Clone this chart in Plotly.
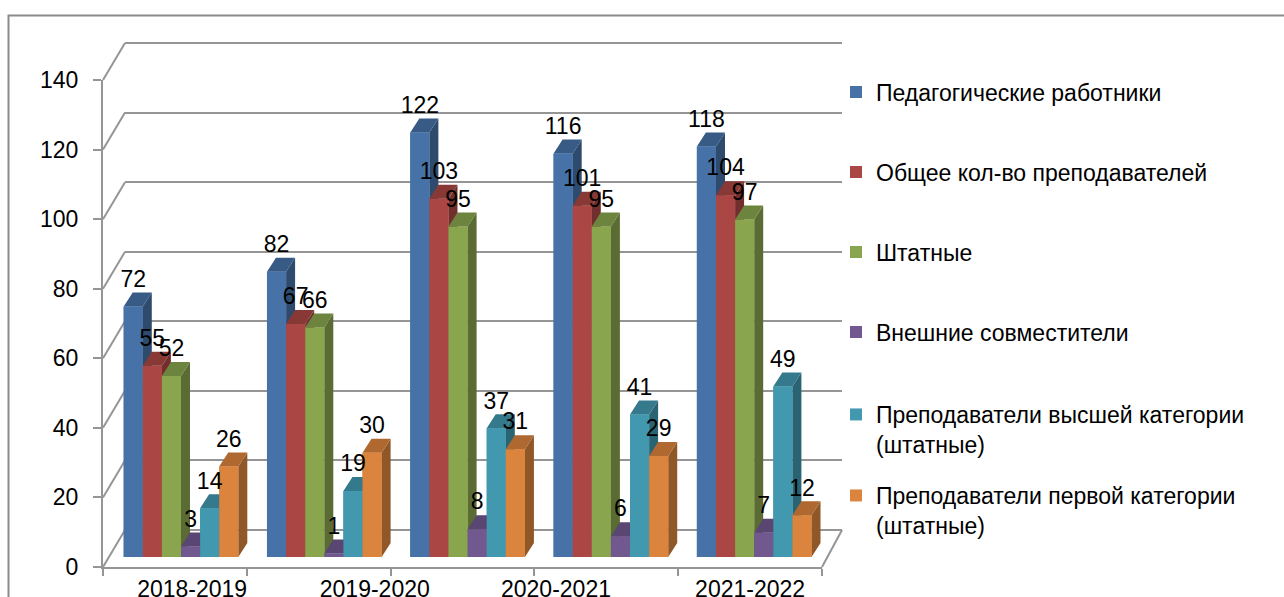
import plotly.graph_objects as go

# ---------------- data ----------------
categories = ["2018-2019", "2019-2020", "2020-2021", "2021-2022"]
series_names = [
    "Педагогические работники",
    "Общее кол-во преподавателей",
    "Штатные",
    "Внешние совместители",
    "Преподаватели высшей категории<br>(штатные)",
    "Преподаватели первой категории<br>(штатные)",
]
ped_workers = [72, 82, 122, 116, 118]
teachers_total = [55, 67, 103, 101, 104]
staff = [52, 66, 95, 95, 97]
external = [3, 1, 8, 6, 7]
higher_cat = [14, 19, 37, 41, 49]
first_cat = [26, 30, 31, 29, 12]
y_ticks = [0, 20, 40, 60, 80, 100, 120, 140]

series_values = [ped_workers, teachers_total, staff, external, higher_cat, first_cat]
front_colors = ["#4672A8", "#AA4643", "#89A54E", "#71588F", "#4198AF", "#DB843D"]

# ---------------- geometry (pixels of the 1284x597 page) ----------------
W, H = 1284, 597
K = 487.0 / 140.0          # pixels per unit on the value axis
Y_MAX = 140


def fx(p):
    return p / W


def fy(p):
    return 1 - p / H


def ydomain(base_px, lo, hi):
    return [fy(base_px - K * lo), fy(base_px - K * hi)]


def shade(hex_color, f):
    h = hex_color.lstrip("#")
    r, g, b = (int(h[i:i + 2], 16) for i in (0, 2, 4))
    return "#%02x%02x%02x" % (int(r * f), int(g * f), int(b * f))


GRID = "#959595"
FONT = "Liberation Sans, Arial, sans-serif"

n_groups = len(ped_workers)
n_series = len(series_values)
group_w = 0.8
bw = group_w / n_series
pitch_px = 143.3
dx = 9.0 / pitch_px          # depth offset in category units
dy = 14.0 / K                # depth offset in value units

fig = go.Figure()

# empty traces so that the wall-grid and front-axis subplots are drawn
fig.add_trace(go.Scatter(x=[None], y=[None], xaxis="x", yaxis="y",
                         showlegend=False, hoverinfo="skip"))
fig.add_trace(go.Scatter(x=[None], y=[None], xaxis="x2", yaxis="y2",
                         showlegend=False, hoverinfo="skip"))

# base bars (front faces) on the bar subplot; they also carry the legend
for j, (name, vals, col) in enumerate(zip(series_names, series_values, front_colors)):
    fig.add_trace(go.Bar(
        x=list(range(n_groups)), y=vals, name=name,
        width=bw, offset=-group_w / 2 + j * bw,
        marker=dict(color=col, line=dict(width=0)),
        xaxis="x3", yaxis="y3", hoverinfo="skip",
        legend="legend" if j == 0 else f"legend{j + 1}",
    ))

# pseudo-3D faces drawn in painter's order (left to right in each cluster)
for j, (vals, col) in enumerate(zip(series_values, front_colors)):
    faces = {"side": ([], []), "top": ([], []), "front": ([], [])}
    for i, v in enumerate(vals):
        x0 = i - group_w / 2 + j * bw
        x1 = x0 + bw
        sx, sy = faces["side"]
        sx += [x1, x1, x1 + dx, x1 + dx, x1, None]
        sy += [0, v, v + dy, dy, 0, None]
        tx, ty = faces["top"]
        tx += [x0, x1, x1 + dx, x0 + dx, x0, None]
        ty += [v, v, v + dy, v + dy, v, None]
        ffx, ffy = faces["front"]
        ffx += [x0, x1, x1, x0, x0, None]
        ffy += [0, 0, v, v, 0, None]
    for face, f in (("side", 0.66), ("top", 0.8), ("front", 1.0)):
        xs, ys = faces[face]
        fig.add_trace(go.Scatter(
            x=xs, y=ys, mode="lines", fill="toself",
            fillcolor=shade(col, f), line=dict(width=0, color=shade(col, f)),
            xaxis="x3", yaxis="y3", hoverinfo="skip", showlegend=False,
        ))

# value labels
for j, vals in enumerate(series_values):
    xs = [i - group_w / 2 + j * bw + bw / 2 for i in range(n_groups)]
    fig.add_trace(go.Scatter(
        x=xs, y=[v + dy for v in vals], mode="text",
        text=[str(v) for v in vals], textposition="top center",
        textfont=dict(family=FONT, size=23, color="#000000"),
        xaxis="x3", yaxis="y3", hoverinfo="skip", showlegend=False,
        cliponaxis=False,
    ))

# ---------------- axes ----------------
back_base, front_base, bar_base = 530.0, 567.0, 557.0
back_left, back_right = 125.0, 842.0
front_left, front_right = 103.0, 822.0

# back wall grid (subplot x / y)
fig.update_layout(
    xaxis=dict(domain=[fx(back_left), fx(back_right)], range=[0, 1], visible=False,
               fixedrange=True, automargin=False),
    yaxis=dict(domain=ydomain(back_base, -0.3, Y_MAX + 0.3), range=[-0.3, Y_MAX + 0.3],
               tickvals=y_ticks, showgrid=True, gridcolor=GRID, gridwidth=2,
               showticklabels=False, zeroline=False, showline=False, ticks="",
               anchor="x", fixedrange=True, automargin=False),
)

# front axes (subplot x2 / y2)
label_pos = [0.12, 1.39, 2.65, 4.0]
fig.update_layout(
    xaxis2=dict(domain=[fx(front_left), fx(front_right)], range=[-0.5, n_groups - 0.5],
                anchor="y2", showline=True, linecolor=GRID, linewidth=2,
                showgrid=False, zeroline=False, automargin=False,
                tickmode="array", tickvals=label_pos, ticktext=categories,
                ticks="", ticklabelstandoff=0,
                tickfont=dict(family=FONT, size=23, color="#000000"),
                minor=dict(tickmode="array",
                           tickvals=[k - 0.5 for k in range(n_groups + 1)],
                           ticks="outside", ticklen=7, tickwidth=2, tickcolor=GRID),
                fixedrange=True),
    yaxis2=dict(domain=ydomain(front_base, 0, Y_MAX), range=[0, Y_MAX], anchor="x2",
                tickmode="array", tickvals=y_ticks, ticks="outside", ticklen=8,
                tickwidth=2, tickcolor=GRID, showline=True, linecolor=GRID, linewidth=2,
                showgrid=False, zeroline=False, ticklabelstandoff=10, automargin=False,
                tickfont=dict(family=FONT, size=23, color="#000000"), fixedrange=True),
)

# bars (subplot x3 / y3)
bar_center0 = 181.0
fig.update_layout(
    xaxis3=dict(domain=[fx(bar_center0 - pitch_px / 2),
                        fx(bar_center0 + pitch_px * (n_groups - 0.5))],
                range=[-0.5, n_groups - 0.5], anchor="y3", visible=False,
                fixedrange=True, automargin=False),
    yaxis3=dict(domain=ydomain(bar_base, 0, Y_MAX), range=[0, Y_MAX], anchor="x3",
                visible=False, fixedrange=True, automargin=False),
    barmode="overlay",
)

# ---------------- walls / frame ----------------
shapes = []
for v in y_ticks:
    shapes.append(dict(type="line", xref="paper", yref="paper",
                       x0=fx(front_left), y0=fy(front_base - K * v),
                       x1=fx(back_left), y1=fy(back_base - K * v),
                       line=dict(color=GRID, width=2), layer="below"))
shapes.append(dict(type="line", xref="paper", yref="paper",
                   x0=fx(front_right), y0=fy(front_base),
                   x1=fx(back_right), y1=fy(back_base),
                   line=dict(color=GRID, width=2), layer="below"))
shapes.append(dict(type="rect", xref="paper", yref="paper",
                   x0=fx(8.5), y0=fy(620), x1=fx(1300), y1=fy(15.5),
                   line=dict(color="#8a8a8a", width=2), layer="below"))

# ---------------- legends ----------------
legend_centers = [92, 172, 252, 332, 429.5, 510.5]
legends = {}
for j, c in enumerate(legend_centers):
    key = "legend" if j == 0 else f"legend{j + 1}"
    legends[key] = dict(
        x=fx(836), xanchor="left", y=fy(c), yanchor="middle",
        valign="top", bgcolor="rgba(0,0,0,0)", borderwidth=0,
        font=dict(family=FONT, size=23, color="#000000"),
        itemclick=False, itemdoubleclick=False,
    )

fig.update_layout(
    width=W, height=H, autosize=False,
    margin=dict(l=0, r=0, t=0, b=0, pad=0, autoexpand=False),
    paper_bgcolor="#ffffff", plot_bgcolor="rgba(0,0,0,0)",
    showlegend=True, shapes=shapes,
    font=dict(family=FONT, size=23, color="#000000"),
    **legends,
)

fig.write_html("out.html", config={"displayModeBar": False},
               post_script="document.body.style.margin='0';document.body.style.overflow='hidden';")
